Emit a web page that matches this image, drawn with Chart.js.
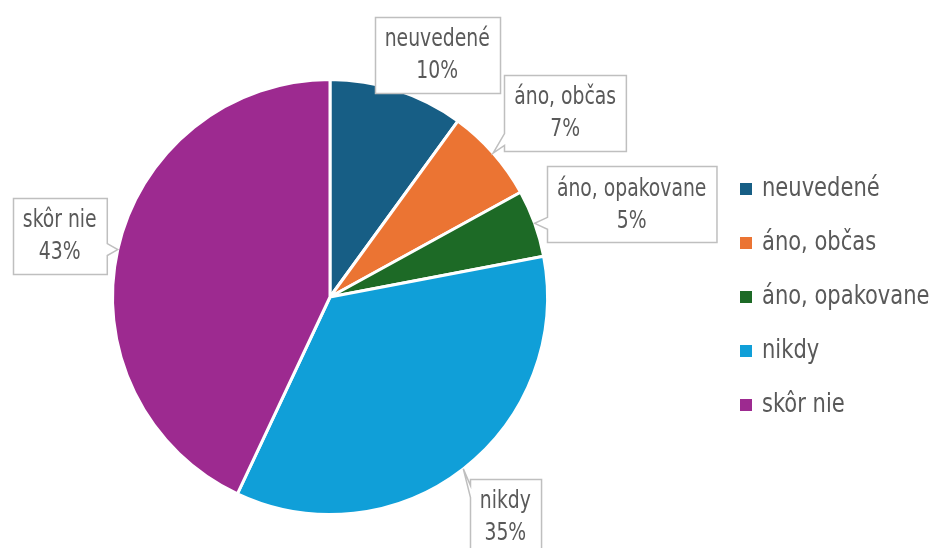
<!DOCTYPE html>
<html>
<head>
<meta charset="utf-8">
<script src="https://cdn.jsdelivr.net/npm/chart.js@4/dist/chart.umd.min.js"></script>
<style>
  html, body { margin: 0; padding: 0; background: #fff; }
  #wrap { width: 935px; height: 548px; position: relative; }
</style>
</head>
<body>
<div id="wrap"><canvas id="pieChart"></canvas></div>
<script>
// data
const categories = ["neuvedené", "áno, občas", "áno, opakovane", "nikdy", "skôr nie"];
const percents = [10, 7, 5, 35, 43];
const sliceColors = ["#175e85", "#eb7433", "#1d6a26", "#109fd8", "#9d2a90"];

// where each callout box sits, relative to the slice edge point (layout only)
const calloutOffsets = [[40, -35], [72, -40], [97, -19], [42, 48], [-58, -14]];

const FONT = "'DejaVu Sans Condensed', 'Liberation Sans Narrow', sans-serif";
const textGray = "#595959";
const SQUEEZE = 0.87;

// condensed text: draw with a horizontal squeeze
function narrowText(ctx, text, x, y, sx) {
  ctx.save();
  ctx.translate(x, y);
  ctx.scale(sx, 1);
  ctx.fillText(text, 0, 0);
  ctx.restore();
}

function boxWithPointer(ctx, x, y, w, h, tx, ty) {
  // rectangle with a small wedge on the side facing (tx, ty)
  const pts = [];
  const base = 12;
  let side = null;
  if (tx < x) side = "left";
  else if (tx > x + w) side = "right";
  else if (ty < y) side = "top";
  else if (ty > y + h) side = "bottom";

  const clamp = (v, a, b) => Math.max(a, Math.min(b, v));
  pts.push([x, y]);
  if (side === "top") {
    const c = clamp(tx, x + base, x + w - base);
    pts.push([c - base / 2, y], [tx, ty], [c + base / 2, y]);
  }
  pts.push([x + w, y]);
  if (side === "right") {
    const c = clamp(ty, y + base, y + h - base);
    pts.push([x + w, c - base / 2], [tx, ty], [x + w, c + base / 2]);
  }
  pts.push([x + w, y + h]);
  if (side === "bottom") {
    const c = clamp(tx, x + base, x + w - base);
    pts.push([c + base / 2, y + h], [tx, ty], [c - base / 2, y + h]);
  }
  pts.push([x, y + h]);
  if (side === "left") {
    const c = clamp(ty, y + base, y + h - base);
    pts.push([x, c + base / 2], [tx, ty], [x, c - base / 2]);
  }
  ctx.beginPath();
  ctx.moveTo(pts[0][0], pts[0][1]);
  for (let i = 1; i < pts.length; i++) ctx.lineTo(pts[i][0], pts[i][1]);
  ctx.closePath();
}

const calloutPlugin = {
  id: "callouts",
  afterDatasetsDraw(chart) {
    const ctx = chart.ctx;
    const arcs = chart.getDatasetMeta(0).data;
    ctx.save();
    ctx.font = "24px " + FONT;
    arcs.forEach((arc, i) => {
      const p = arc.getProps(["x", "y", "startAngle", "endAngle", "outerRadius"], true);
      const mid = (p.startAngle + p.endAngle) / 2;
      const ax = p.x + Math.cos(mid) * p.outerRadius;
      const ay = p.y + Math.sin(mid) * p.outerRadius;
      const cx = ax + calloutOffsets[i][0];
      const cy = ay + calloutOffsets[i][1];
      const line1 = chart.data.labels[i];
      const line2 = percents[i] + "%";
      const tw = Math.max(ctx.measureText(line1).width, ctx.measureText(line2).width) * SQUEEZE;
      const w = tw + 20;
      const h = 76;
      const bx = Math.round(cx - w / 2) + 0.5;
      const by = Math.round(cy - h / 2) + 0.5;
      boxWithPointer(ctx, bx, by, w, h, ax, ay);
      ctx.fillStyle = "#fff";
      ctx.fill();
      ctx.strokeStyle = "#bfbfbf";
      ctx.lineWidth = 1.5;
      ctx.stroke();
      ctx.fillStyle = textGray;
      ctx.textAlign = "center";
      ctx.textBaseline = "middle";
      narrowText(ctx, line1, cx, cy - 15, SQUEEZE);
      narrowText(ctx, line2, cx, cy + 17, SQUEEZE);
    });
    ctx.restore();
  }
};

const legendPlugin = {
  id: "sideLegend",
  afterDraw(chart) {
    const ctx = chart.ctx;
    const colors = chart.data.datasets[0].backgroundColor;
    ctx.save();
    ctx.font = "26px " + FONT;
    ctx.textBaseline = "middle";
    ctx.textAlign = "left";
    chart.data.labels.forEach((lab, i) => {
      const y = 189 + i * 54;
      ctx.fillStyle = colors[i];
      ctx.fillRect(740, y - 6, 12, 12);
      ctx.fillStyle = textGray;
      narrowText(ctx, lab, 762, y, 0.9);
    });
    ctx.restore();
  }
};

new Chart(document.getElementById("pieChart"), {
  type: "pie",
  data: {
    labels: categories,
    datasets: [{
      data: percents,
      backgroundColor: sliceColors,
      borderColor: "#ffffff",
      borderWidth: 3
    }]
  },
  options: {
    responsive: true,
    maintainAspectRatio: false,
    animation: false,
    layout: { padding: { left: 111, right: 386, top: 78, bottom: 32 } },
    plugins: {
      legend: { display: false },
      tooltip: { enabled: false }
    }
  },
  plugins: [calloutPlugin, legendPlugin]
});
</script>
</body>
</html>
